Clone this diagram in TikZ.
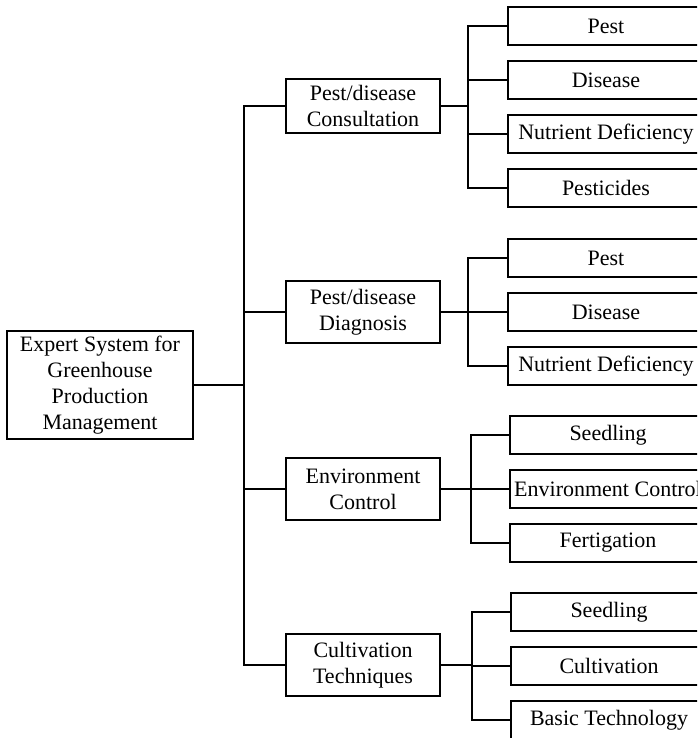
\documentclass[tikz,border=0pt]{standalone}
\usepackage{fontspec}
\setmainfont{Liberation Serif}
\usepackage{tikz}
\usetikzlibrary{positioning}

\begin{document}
\begin{tikzpicture}[x=0.5pt, y=-0.5pt, line width=1pt, font=\fontsize{11}{13}\selectfont]
    % Styles
    \tikzstyle{root} = [rectangle, draw, align=center, minimum width=93pt, minimum height=54pt, inner sep=1pt]
    \tikzstyle{topic} = [rectangle, draw, align=center, minimum width=77pt, minimum height=31pt, inner sep=1pt]
    \tikzstyle{leaf} = [rectangle, draw, minimum width=98pt, minimum height=19pt, inner sep=1pt]
    \tikzstyle{line} = [draw]

    \useasboundingbox (0,0) rectangle (697,738);
    \clip (0,0) rectangle (697,738);

    % Nodes
    \node [root] (expert) at (100,385) {Expert System for\\Greenhouse\\Production\\Management};

    \node [topic, minimum height=27pt] (consult) at (363,106) {Pest/disease\\Consultation};
    \node [topic] (diagnose) at (363,312) {Pest/disease\\Diagnosis};
    \node [topic] (environ) at (363,489) {Environment\\Control};
    \node [topic] (cultivate) at (363,665) {Cultivation\\Techniques};

    \node [leaf] (consPest) at (606,26) {Pest};
    \node [leaf, below=7pt of consPest] (consDisease) {Disease};
    \node [leaf, below=7pt of consDisease] (consNutrient) {Nutrient Deficiency};
    \node [leaf, below=7pt of consNutrient] (consPesticide) {Pesticides};

    \node [leaf] (diagPest) at (606,258) {Pest};
    \node [leaf, below=7pt of diagPest] (diagDisease) {Disease};
    \node [leaf, below=7pt of diagDisease] (diagNutrient) {Nutrient Deficiency};

    \node [leaf] (envSeedling) at (608,435) {Seedling};
    \node [leaf, below=7pt of envSeedling] (envControl) {Environment Control};
    \node [leaf, below=7pt of envControl] (envFertigation) {Fertigation};

    \node [leaf] (cultSeedling) at (609,612) {Seedling};
    \node [leaf, below=7pt of cultSeedling] (cultCultivation) {Cultivation};
    \node [leaf, below=7pt of cultCultivation] (cultBasic) {Basic Technology};

    % Hubs
    \coordinate (hub) at (244,385);
    \coordinate (hubCons) at (468,106);
    \coordinate (hubDiag) at (468,312);
    \coordinate (hubEnv) at (471,489);
    \coordinate (hubCult) at (472,665);

    % Paths
    \path [line] (expert.east) -- (hub);
    \path [line] (hub) |- (consult.west);
    \path [line] (hub) |- (diagnose.west);
    \path [line] (hub) |- (environ.west);
    \path [line] (hub) |- (cultivate.west);

    \path [line] (consult.east) -- (hubCons);
    \path [line] (hubCons) |- (consPest.west);
    \path [line] (hubCons) |- (consDisease.west);
    \path [line] (hubCons) |- (consNutrient.west);
    \path [line] (hubCons) |- (consPesticide.west);

    \path [line] (diagnose.east) -- (hubDiag);
    \path [line] (hubDiag) |- (diagPest.west);
    \path [line] (hubDiag) |- (diagDisease.west);
    \path [line] (hubDiag) |- (diagNutrient.west);

    \path [line] (environ.east) -- (hubEnv);
    \path [line] (hubEnv) |- (envSeedling.west);
    \path [line] (hubEnv) |- (envControl.west);
    \path [line] (hubEnv) |- (envFertigation.west);

    \path [line] (cultivate.east) -- (hubCult);
    \path [line] (hubCult) |- (cultSeedling.west);
    \path [line] (hubCult) |- (cultCultivation.west);
    \path [line] (hubCult) |- (cultBasic.west);
\end{tikzpicture}
\end{document}
